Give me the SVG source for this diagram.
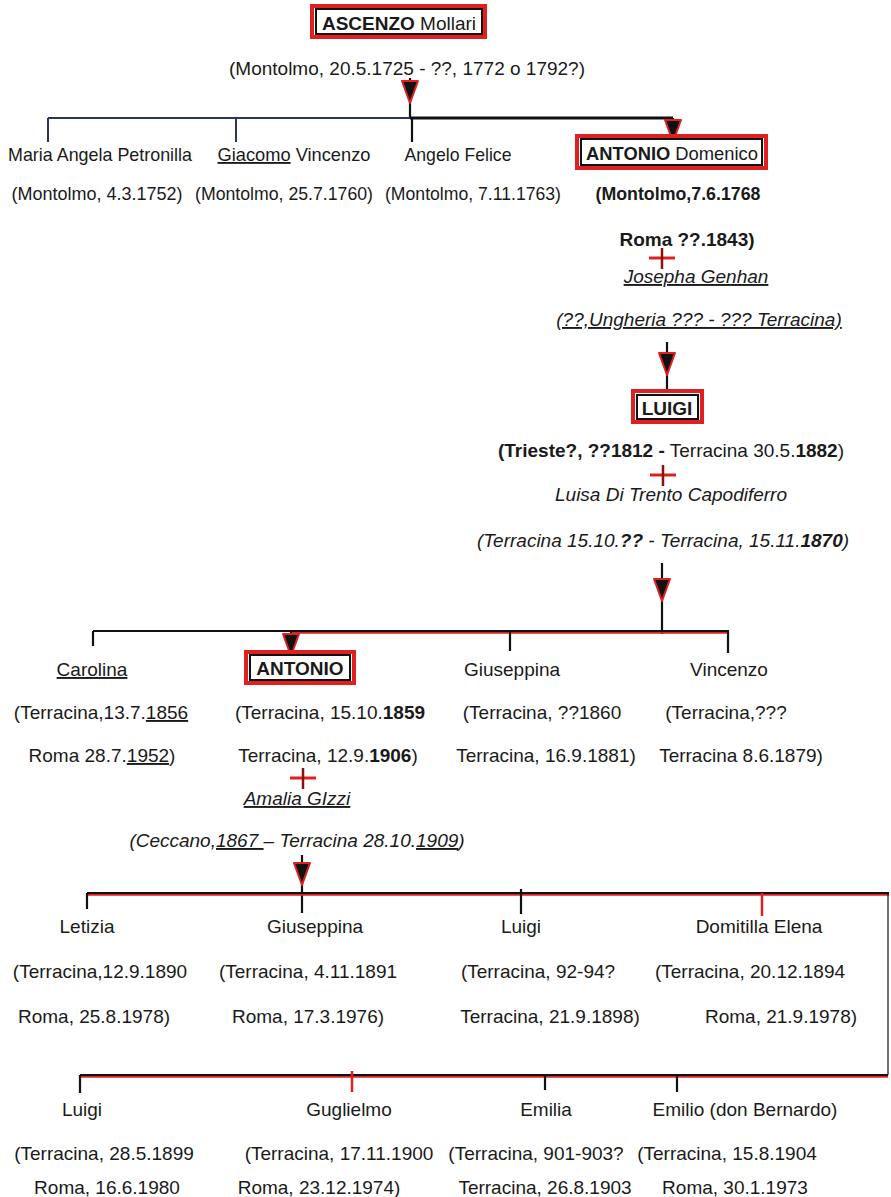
<svg xmlns="http://www.w3.org/2000/svg" width="891" height="1197" viewBox="0 0 891 1197">
<style>
text{font-family:"Liberation Sans",Arial,sans-serif;font-size:19px;fill:#1a1a1a;text-anchor:middle}
.s{font-size:18.5px}
.b{font-weight:bold}
.i{font-style:italic}
.u{text-decoration:underline}
.rb{fill:none;stroke:#e02020;stroke-width:4}
.kb{fill:#fff;stroke:#111;stroke-width:2}
.ln{stroke:#111;stroke-width:2.2;fill:none}
.rl{stroke:#e02020;stroke-width:2.5;fill:none}
.bl{stroke:#2c3560;stroke-width:2;fill:none}
.ah{fill:#111;stroke:#e02020;stroke-width:2;stroke-linejoin:round}
.cx{stroke:#e02020;stroke-width:3}
.cy{stroke:#8a1010;stroke-width:2.5}
</style>
<defs>
<path id="ah" class="ah" d="M-8,0 L8,0 L0,22 Z"/>
<g id="cross"><line class="cx" x1="-13" y1="0" x2="13" y2="0"/><line class="cy" x1="0" y1="-10" x2="0" y2="11"/></g>
</defs>
<rect width="891" height="1197" fill="#fff"/>

<g id="connectors">
  <!-- generation 1 -->
  <line class="ln" x1="410" y1="78" x2="410" y2="118"/>
  <use href="#ah" x="410" y="81"/>
  <line class="bl" x1="48" y1="118" x2="410" y2="118"/>
  <line class="ln" x1="410" y1="118" x2="673" y2="118" style="stroke-width:2.8"/>
  <line class="bl" x1="48" y1="118" x2="48" y2="142"/>
  <line class="bl" x1="236" y1="118" x2="236" y2="142"/>
  <line class="ln" x1="412" y1="118" x2="412" y2="142"/>
  <line class="ln" x1="673" y1="118" x2="673" y2="138"/>
  <use href="#ah" x="673" y="120"/>
  <use href="#cross" x="662" y="258"/>
  <!-- generation 2 -->
  <line class="ln" x1="667" y1="342" x2="667" y2="393"/>
  <use href="#ah" x="667" y="353"/>
  <use href="#cross" x="663" y="475"/>
  <!-- generation 3 -->
  <line class="ln" x1="662" y1="563" x2="662" y2="634"/>
  <use href="#ah" x="662" y="579"/>
  <line class="rl" x1="292" y1="632.5" x2="729" y2="632.5"/>
  <line class="ln" x1="93" y1="631" x2="729" y2="631"/>
  <line class="ln" x1="93" y1="631" x2="93" y2="646"/>
  <line class="ln" x1="510" y1="631" x2="510" y2="651"/>
  <line class="ln" x1="728" y1="631" x2="728" y2="653"/>
  <line class="ln" x1="291" y1="631" x2="291" y2="652"/>
  <use href="#ah" x="291" y="634"/>
  <use href="#cross" x="303" y="778"/>
  <!-- generation 4 -->
  <line class="ln" x1="302" y1="855" x2="302" y2="913"/>
  <use href="#ah" x="302" y="863"/>
  <line class="rl" x1="87" y1="894.5" x2="889" y2="894.5"/>
  <line class="ln" x1="87" y1="893" x2="889" y2="893"/>
  <line class="ln" x1="87" y1="893" x2="87" y2="909"/>
  <line class="ln" x1="521" y1="889" x2="521" y2="914"/>
  <line class="rl" x1="762" y1="893" x2="762" y2="916"/>
  <line class="ln" x1="888" y1="893" x2="888" y2="1075" style="stroke-width:1.2"/>
  <line class="rl" x1="80" y1="1076.5" x2="888" y2="1076.5"/>
  <line class="ln" x1="80" y1="1075" x2="888" y2="1075"/>
  <line class="ln" x1="80" y1="1075" x2="80" y2="1093"/>
  <line class="rl" x1="352" y1="1071" x2="352" y2="1092"/>
  <line class="ln" x1="545" y1="1075" x2="545" y2="1090"/>
  <line class="ln" x1="677" y1="1075" x2="677" y2="1092"/>
</g>

<g id="ascenzo">
  <rect class="rb" x="312" y="6" width="173" height="31"/>
  <rect class="kb" x="316" y="9" width="166" height="25"/>
  <text x="399" y="30"><tspan class="b">ASCENZO</tspan> Mollari</text>
  <text x="407" y="75">(Montolmo, 20.5.1725 - ??, 1772 o 1792?)</text>
</g>

<g id="maria-angela">
  <text class="s" x="100" y="161" textLength="184" lengthAdjust="spacingAndGlyphs">Maria Angela Petronilla</text>
  <text class="s" x="97" y="200" textLength="171" lengthAdjust="spacingAndGlyphs">(Montolmo, 4.3.1752)</text>
</g>
<g id="giacomo">
  <text class="s" x="294" y="161" textLength="153" lengthAdjust="spacingAndGlyphs"><tspan class="u">Giacomo</tspan> Vincenzo</text>
  <text class="s" x="284" y="200" textLength="178" lengthAdjust="spacingAndGlyphs">(Montolmo, 25.7.1760)</text>
</g>
<g id="angelo">
  <text class="s" x="458" y="161" textLength="107" lengthAdjust="spacingAndGlyphs">Angelo Felice</text>
  <text class="s" x="473" y="200" textLength="176" lengthAdjust="spacingAndGlyphs">(Montolmo, 7.11.1763)</text>
</g>
<g id="antonio-domenico">
  <rect class="rb" x="577" y="136" width="189" height="32"/>
  <rect class="kb" x="581" y="139" width="181" height="26"/>
  <text class="s" x="672" y="160" textLength="172" lengthAdjust="spacingAndGlyphs"><tspan class="b">ANTONIO</tspan> Domenico</text>
  <text class="s b" x="678" y="200" textLength="165" lengthAdjust="spacingAndGlyphs">(Montolmo,7.6.1768</text>
  <text class="b" x="687" y="246">Roma ??.1843)</text>
</g>
<g id="josepha">
  <text class="i u" x="696" y="283">Josepha Genhan</text>
  <text class="i u" x="699" y="326">(??,Ungheria ??? - ??? Terracina)</text>
</g>

<g id="luigi-1812">
  <rect class="rb" x="633" y="391" width="69" height="31"/>
  <rect class="kb" x="637" y="395" width="61" height="24"/>
  <text class="b" x="667" y="415">LUIGI</text>
  <text x="671" y="457"><tspan class="b">(Trieste?, ??1812 -</tspan> Terracina 30.5.<tspan class="b">1882</tspan>)</text>
</g>
<g id="luisa">
  <text class="i" x="671" y="501">Luisa Di Trento Capodiferro</text>
  <text class="i" x="663" y="547">(Terracina 15.10.<tspan class="b">??</tspan>  - Terracina, 15.11.<tspan class="b">1870</tspan>)</text>
</g>

<g id="carolina">
  <text class="u" x="92" y="676">Carolina</text>
  <text x="101" y="719">(Terracina,13.7.<tspan class="u">1856</tspan></text>
  <text x="102" y="762">Roma 28.7.<tspan class="u">1952</tspan>)</text>
</g>
<g id="antonio-1859">
  <rect class="rb" x="246" y="652" width="108" height="31"/>
  <rect class="kb" x="250" y="655" width="100" height="25"/>
  <text class="b" x="300" y="675">ANTONIO</text>
  <text x="330" y="719">(Terracina, 15.10.<tspan class="b">1859</tspan></text>
  <text x="328" y="762">Terracina, 12.9.<tspan class="b">1906</tspan>)</text>
</g>
<g id="giuseppina-1860">
  <text x="512" y="676">Giuseppina</text>
  <text x="542" y="719">(Terracina, ??1860</text>
  <text x="546" y="762">Terracina, 16.9.1881)</text>
</g>
<g id="vincenzo">
  <text x="729" y="676">Vincenzo</text>
  <text x="726" y="719">(Terracina,???</text>
  <text x="741" y="762">Terracina 8.6.1879)</text>
</g>
<g id="amalia">
  <text class="i u" x="297" y="805">Amalia  GIzzi</text>
  <text class="i" x="297" y="847">(Ceccano,<tspan class="u">1867 </tspan>– Terracina 28.10.<tspan class="u">1909</tspan>)</text>
</g>

<g id="letizia">
  <text x="87" y="933">Letizia</text>
  <text x="100" y="978">(Terracina,12.9.1890</text>
  <text x="94" y="1023">Roma, 25.8.1978)</text>
</g>
<g id="giuseppina-1891">
  <text x="315" y="933">Giuseppina</text>
  <text x="308" y="978">(Terracina, 4.11.1891</text>
  <text x="308" y="1023">Roma, 17.3.1976)</text>
</g>
<g id="luigi-1892">
  <text x="521" y="933">Luigi</text>
  <text x="538" y="978">(Terracina, 92-94?</text>
  <text x="550" y="1023">Terracina, 21.9.1898)</text>
</g>
<g id="domitilla">
  <text x="759" y="933">Domitilla Elena</text>
  <text x="750" y="978">(Terracina, 20.12.1894</text>
  <text x="781" y="1023">Roma, 21.9.1978)</text>
</g>

<g id="luigi-1899">
  <text x="82" y="1116">Luigi</text>
  <text x="104" y="1160">(Terracina, 28.5.1899</text>
  <text x="107" y="1194">Roma, 16.6.1980</text>
</g>
<g id="guglielmo">
  <text x="349" y="1116">Guglielmo</text>
  <text x="339" y="1160">(Terracina, 17.11.1900</text>
  <text x="319" y="1194">Roma, 23.12.1974)</text>
</g>
<g id="emilia">
  <text x="546" y="1116">Emilia</text>
  <text x="536" y="1160">(Terracina, 901-903?</text>
  <text x="545" y="1194">Terracina, 26.8.1903</text>
</g>
<g id="emilio">
  <text x="745" y="1116">Emilio (don Bernardo)</text>
  <text x="727" y="1160">(Terracina, 15.8.1904</text>
  <text x="735" y="1194">Roma, 30.1.1973</text>
</g>
</svg>
